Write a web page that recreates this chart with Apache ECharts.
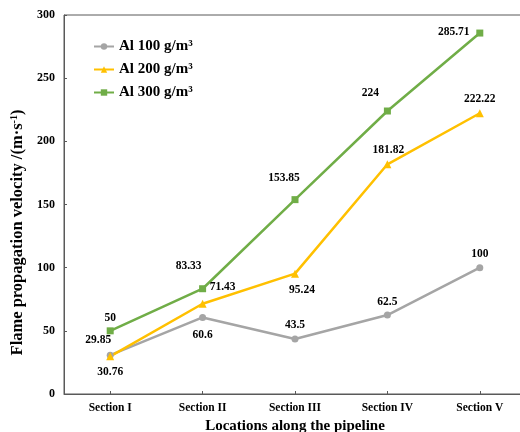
<!DOCTYPE html>
<html>
<head>
<meta charset="utf-8">
<script src="https://cdn.jsdelivr.net/npm/echarts@6/dist/echarts.min.js"></script>
<style>
  html, body { margin: 0; padding: 0; background: #fff; }
  #chart { width: 520px; height: 432px; }
</style>
</head>
<body>
<div id="chart"></div>
<script>
// Flame propagation velocity at five sections along the pipeline
const categories = ['Section I', 'Section II', 'Section III', 'Section IV', 'Section V'];
const seriesNames = ['Al 100 g/m³', 'Al 200 g/m³', 'Al 300 g/m³'];
const al100 = [30.76, 60.6, 43.5, 62.5, 100];
const al200 = [29.85, 71.43, 95.24, 181.82, 222.22];
const al300 = [50, 83.33, 153.85, 224, 285.71];
const yTicks = [0, 50, 100, 150, 200, 250, 300];

const serif = 'Liberation Serif, Times New Roman, serif';

// where each value label sits relative to its marker, in pixels
const labelPlacement = [
  [[0, 17], [0, 18], [0, -14], [0, -13], [0, -14]],
  [[-12, -16], [20, -17], [7, 16], [1, -14], [0, -14]],
  [[0, -13], [-14, -23], [-11, -22], [-17, -18], [-26, -1]]
];

const styles = [
  { color: '#A5A5A5', symbol: 'circle', size: 7 },
  { color: '#FFC000', symbol: 'triangle', size: 8 },
  { color: '#70AD47', symbol: 'rect', size: 7 }
];

const values = [al100, al200, al300];

const series = values.map(function (vals, s) {
  return {
    name: seriesNames[s],
    type: 'line',
    data: vals.map(function (v, i) {
      return {
        value: v,
        label: { offset: labelPlacement[s][i] }
      };
    }),
    symbol: styles[s].symbol,
    symbolSize: styles[s].size,
    showAllSymbol: true,
    lineStyle: { color: styles[s].color, width: 2.5 },
    itemStyle: { color: styles[s].color },
    label: {
      show: true,
      position: 'inside',
      color: '#000',
      fontFamily: serif,
      fontWeight: 'bold',
      fontSize: 11.5,
      formatter: function (p) { return String(p.value); }
    },
    emphasis: { disabled: true },
    animation: false
  };
});

const chart = echarts.init(document.getElementById('chart'), null, { renderer: 'canvas' });

chart.setOption({
  backgroundColor: '#fff',
  animation: false,
  grid: {
    left: 64, right: -6, top: 15, bottom: 38,
    outerBoundsMode: 'none',
    containLabel: false,
    show: true, borderColor: '#595959', borderWidth: 1
  },
  legend: {
    left: 93, top: 39, orient: 'vertical', padding: 0,
    itemWidth: 20, itemHeight: 8, itemGap: 8,
    data: seriesNames,
    textStyle: { fontFamily: serif, fontWeight: 'bold', fontSize: 15, color: '#000', lineHeight: 15 }
  },
  xAxis: {
    type: 'category',
    data: categories,
    boundaryGap: true,
    name: 'Locations along the pipeline',
    nameLocation: 'middle',
    nameGap: 20,
    nameTextStyle: { fontFamily: serif, fontWeight: 'bold', fontSize: 15, color: '#000' },
    axisLine: { lineStyle: { color: '#595959', width: 1 } },
    axisTick: { show: true, inside: true, length: 3, alignWithLabel: true, lineStyle: { color: '#595959' } },
    axisLabel: { fontFamily: serif, fontWeight: 'bold', fontSize: 11.5, color: '#000', margin: 8 },
    splitLine: { show: false }
  },
  yAxis: {
    type: 'value',
    min: yTicks[0], max: yTicks[yTicks.length - 1], interval: yTicks[1] - yTicks[0],
    name: '{t|Flame propagation velocity /(m·s}{s|-1}{t|)}',
    nameLocation: 'middle',
    nameGap: 38,
    nameRotate: 90,
    nameTextStyle: {
      padding: [0, 56, 0, 0],
      rich: {
        t: { fontFamily: serif, fontWeight: 'bold', fontSize: 16.5, color: '#000' },
        s: { fontFamily: serif, fontWeight: 'bold', fontSize: 10, color: '#000', verticalAlign: 'top', padding: [0, 0, 6, 0] }
      }
    },
    axisLine: { show: true, lineStyle: { color: '#595959', width: 1 } },
    axisTick: { show: true, inside: true, length: 3, lineStyle: { color: '#595959' } },
    axisLabel: { fontFamily: serif, fontWeight: 'bold', fontSize: 12, color: '#000', margin: 9 },
    splitLine: { show: false }
  },
  series: series
});
</script>
</body>
</html>
